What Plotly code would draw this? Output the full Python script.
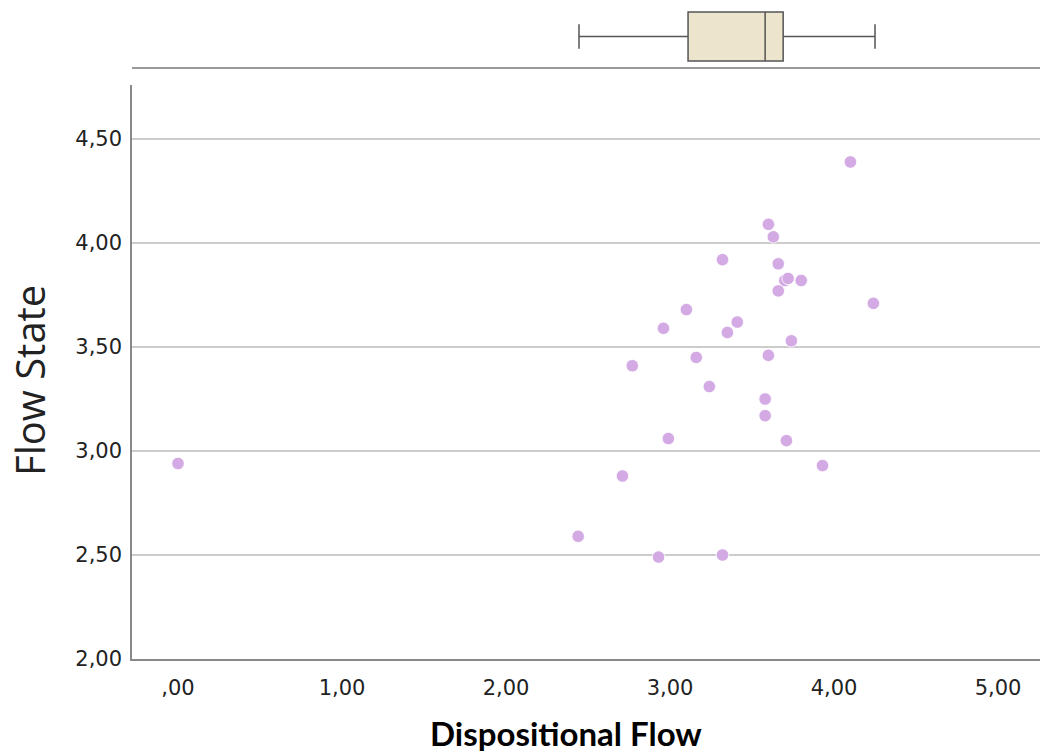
import plotly.graph_objects as go

# Data
disp_flow = [0.00, 4.10, 3.60, 3.63, 3.32, 3.66, 3.70, 3.72, 3.80, 3.66, 4.24, 3.10, 3.41, 2.96,
             3.35, 3.74, 3.60, 3.16, 2.77, 3.24, 3.58, 3.58, 2.99, 3.71, 3.93, 2.71, 2.44, 2.93, 3.32]
flow_state = [2.94, 4.39, 4.09, 4.03, 3.92, 3.90, 3.82, 3.83, 3.82, 3.77, 3.71, 3.68, 3.62, 3.59,
              3.57, 3.53, 3.46, 3.45, 3.41, 3.31, 3.25, 3.17, 3.06, 3.05, 2.93, 2.88, 2.59, 2.49, 2.50]

# Box plot summary (Dispositional Flow)
box_lower = [2.445]
box_q1 = [3.11]
box_median = [3.58]
box_q3 = [3.69]
box_upper = [4.25]

x_tickvals = [0, 1, 2, 3, 4, 5]
x_ticktext = [",00", "1,00", "2,00", "3,00", "4,00", "5,00"]
y_tickvals = [2.0, 2.5, 3.0, 3.5, 4.0, 4.5]
y_ticktext = ["2,00", "2,50", "3,00", "3,50", "4,00", "4,50"]

fig = go.Figure()

fig.add_trace(go.Scatter(
    x=disp_flow, y=flow_state, mode="markers",
    marker=dict(size=12.5, color="#D4AAE4", line=dict(color="white", width=0.8)),
    xaxis="x", yaxis="y", showlegend=False, hoverinfo="x+y"))

fig.add_trace(go.Box(
    y=[0], orientation="h",
    q1=box_q1, median=box_median, q3=box_q3,
    lowerfence=box_lower, upperfence=box_upper,
    fillcolor="#ECE4CC", line=dict(color="#555555", width=1.5),
    width=0.8, whiskerwidth=0.5, boxpoints=False,
    xaxis="x2", yaxis="y2", showlegend=False))

xr = [-0.2805, 5.256]
tickfont = dict(family="DejaVu Sans", size=21, color="#222222")

fig.update_layout(
    width=1051, height=753,
    margin=dict(l=132, r=11, t=6, b=94),
    plot_bgcolor="white", paper_bgcolor="white",
    xaxis=dict(range=xr, domain=[0, 1], tickvals=x_tickvals, ticktext=x_ticktext,
               showgrid=False, zeroline=False, showline=True, linecolor="#888888", linewidth=1.5,
               ticks="", tickfont=tickfont, anchor="y", ticklabelstandoff=9),
    yaxis=dict(range=[2.0, 4.76], domain=[0, 0.879], tickvals=y_tickvals, ticktext=y_ticktext,
               showgrid=True, gridcolor="#CCCCCC", gridwidth=1.5, zeroline=False,
               showline=True, linecolor="#888888", linewidth=1.5, ticks="",
               tickfont=tickfont, anchor="x", ticklabelstandoff=4),
    xaxis2=dict(range=xr, domain=[0, 1], anchor="y2", showticklabels=False, ticks="",
                showgrid=False, zeroline=False, showline=True, linecolor="#999999", linewidth=2),
    yaxis2=dict(range=[-0.5, 0.5], domain=[0.9066, 1.0], anchor="x2", showticklabels=False,
                showgrid=False, zeroline=False, showline=False),
    annotations=[
        dict(text="Flow State", x=29, y=381, xref="paper", yref="paper", showarrow=False,
             textangle=-90, font=dict(family="Open Sans", size=40, color="#222222")),
        dict(text="<b>Dispositional Flow</b>", x=566, y=733, xref="paper", yref="paper",
             showarrow=False, font=dict(family="Lato", size=33, color="#000000")),
    ],
)

# convert pixel annotation positions to paper coords
W, H = 1051, 753
l, r, t, b = 132, 11, 6, 94
pw, ph = W - l - r, H - t - b
new_ann = []
for a in fig.layout.annotations:
    px, py = a.x, a.y
    a.x = (px - l) / pw
    a.y = (H - b - py) / ph
    a.xanchor = "center"
    a.yanchor = "middle"
    new_ann.append(a)
fig.layout.annotations = new_ann

fig.write_html("out.html")
